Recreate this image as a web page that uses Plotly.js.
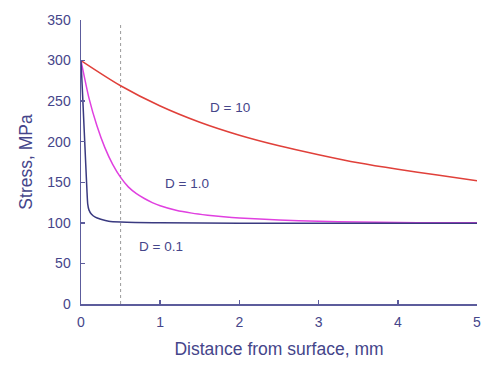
<!DOCTYPE html>
<html>
<head>
<meta charset="utf-8">
<script src="https://cdn.plot.ly/plotly-3.0.1.min.js"></script>
<style>html,body{margin:0;padding:0;background:#fff;}#chart{width:500px;height:376px;}</style>
</head>
<body>
<div id="chart"></div>
<script>
// Distance from surface (mm) and stress (MPa) for each D
const xD10 = [0, 0.5, 1.0, 1.5, 2.0, 2.5, 3.0, 3.5, 4.0, 4.5, 5.0];
const yD10 = [300, 269, 244, 224, 208, 195, 184, 174, 166, 159, 152];

const xD1 = [0, 0.1, 0.2, 0.3, 0.4, 0.5, 0.6, 0.7, 0.8, 0.9, 1.0, 1.2, 1.4, 1.6, 1.8, 2.0, 2.5, 3.0, 3.5, 4.0, 4.5, 5.0];
const yD1 = [300, 254, 220, 193, 172, 156, 144, 136, 130, 125, 121, 115.5, 112, 109.5, 107.5, 106, 103.5, 102, 101, 100.5, 100, 100];

const xD01 = [0, 0.02, 0.04, 0.06, 0.075, 0.085, 0.1, 0.13, 0.18, 0.25, 0.35, 0.5, 1.0, 2.0, 3.0, 4.0, 5.0];
const yD01 = [300, 258, 215, 172, 140, 123, 116, 111, 107, 104.5, 102, 101, 100, 99.5, 99.5, 99.5, 99.5];

const refDepth = 0.5;            // dotted reference line position (mm)
const refTop = 345;              // top of dotted line (MPa)
const labels = ["D = 10", "D = 1.0", "D = 0.1"];
const labelX = [1.88, 1.34, 1.01];
const labelY = [242, 149, 71];

const xTicks = [0, 1, 2, 3, 4, 5];
const yTicks = [0, 50, 100, 150, 200, 250, 300, 350];

const axisColor = '#5c5c9c';
const textColor = '#45458a';
const font = 'Arial, "Liberation Sans", sans-serif';

const traces = [
  {x: [refDepth, refDepth], y: [0, refTop], mode: 'lines', line: {color: '#9a9a9a', width: 1, dash: 'dot'}, hoverinfo: 'skip'},
  {x: xD10, y: yD10, mode: 'lines', line: {color: '#e0403a', width: 1.5, shape: 'spline', smoothing: 0.8}},
  {x: xD1, y: yD1, mode: 'lines', line: {color: '#e040e0', width: 1.5, shape: 'spline', smoothing: 0.6}},
  {x: xD01, y: yD01, mode: 'lines', line: {color: '#3a3a80', width: 1.5, shape: 'spline', smoothing: 0.6}}
];

const layout = {
  width: 500, height: 376,
  margin: {l: 81, r: 23, t: 20, b: 72},
  paper_bgcolor: '#fff', plot_bgcolor: '#fff',
  showlegend: false,
  font: {family: font, color: textColor, size: 14},
  xaxis: {
    range: [0, 5], tickvals: xTicks, ticktext: xTicks.map(String),
    showgrid: false, zeroline: false, showline: true, linecolor: axisColor, linewidth: 1.5,
    ticks: 'inside', ticklen: 4, tickcolor: axisColor, tickwidth: 1.5, ticklabelstandoff: 5,
    tickfont: {family: font, color: textColor, size: 14},
    title: {text: 'Distance from surface, mm', font: {family: font, color: textColor, size: 17.5}, standoff: 13}
  },
  yaxis: {
    range: [0, 350], tickvals: yTicks, ticktext: yTicks.map(String),
    showgrid: false, zeroline: false, showline: true, linecolor: axisColor, linewidth: 1.5,
    ticks: 'inside', ticklen: 4, tickcolor: axisColor, tickwidth: 1.5, ticklabelstandoff: 6,
    tickfont: {family: font, color: textColor, size: 14},
    title: {text: 'Stress, MPa', font: {family: font, color: textColor, size: 17.5}, standoff: 10}
  },
  annotations: labels.map((t, i) => ({
    x: labelX[i], y: labelY[i], text: t, showarrow: false, xref: 'x', yref: 'y',
    font: {family: font, color: textColor, size: 13.5}
  }))
};

Plotly.newPlot('chart', traces, layout, {displayModeBar: false, staticPlot: true});
</script>
</body>
</html>
